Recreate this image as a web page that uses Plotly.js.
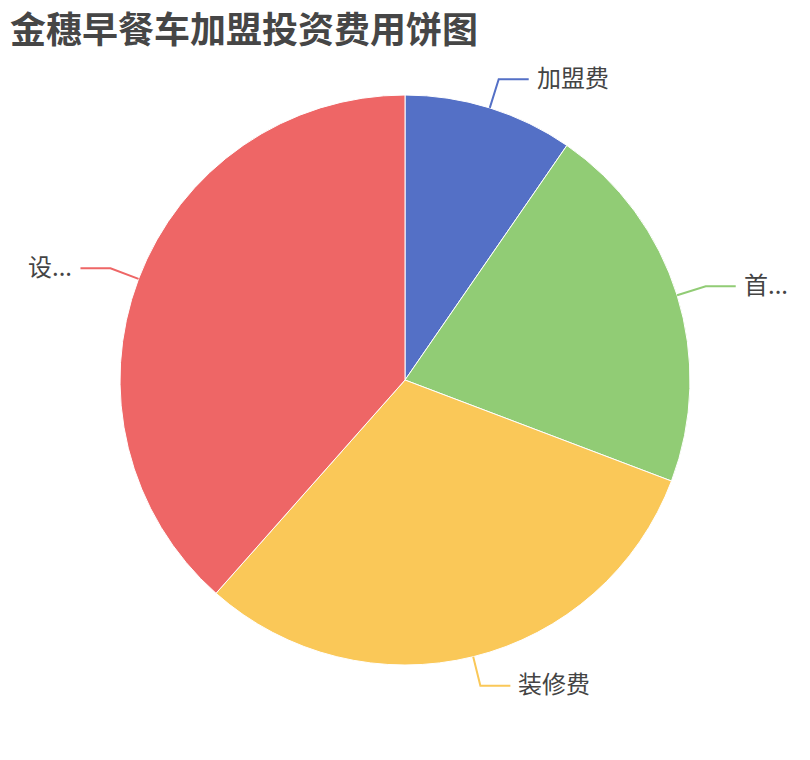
<!DOCTYPE html>
<html>
<head>
<meta charset="utf-8">
<script src="https://cdn.plot.ly/plotly-3.0.1.min.js"></script>
<style>
    html, body { margin: 0; padding: 0; background: #fff; }
    #chart { width: 810px; height: 760px; }
</style>
</head>
<body>
<div id="chart"></div>
<script>
// Data
const labels = ['加盟费', '首...', '装修费', '设...'];
const values = [5, 11, 16, 20];
const colors = ['#5470c6', '#91cc75', '#fac858', '#ee6666'];

const W = 810, H = 760;
// pie geometry in pixels
const cx = 405, cy = 380, radius = 285;
const len1 = 30, len2 = 30, gap = 6;

function px(x) { return x / W; }
function py(y) { return 1 - y / H; }

/**
 * Leader lines and label positions from the slice angles
 */
function buildLabels() {
    let total = values.reduce((a, b) => a + b, 0);
    let shapes = [];
    let annotations = [];
    let start = 0;
    values.forEach((v, i) => {
        let mid = (start + v / 2) / total * 2 * Math.PI;
        start += v;
        let sx = Math.sin(mid), sy = -Math.cos(mid);
        let x0 = cx + radius * sx, y0 = cy + radius * sy;
        let x1 = cx + (radius + len1) * sx, y1 = cy + (radius + len1) * sy;
        let dir = sx >= 0 ? 1 : -1;
        let x2 = x1 + dir * len2;
        shapes.push({
            type: 'path',
            xref: 'paper', yref: 'paper',
            path: 'M ' + px(x0) + ' ' + py(y0) + ' L ' + px(x1) + ' ' + py(y1) + ' L ' + px(x2) + ' ' + py(y1),
            line: { color: colors[i], width: 2 }
        });
        annotations.push({
            xref: 'paper', yref: 'paper',
            x: px(x2 + dir * gap), y: py(y1),
            xanchor: dir > 0 ? 'left' : 'right',
            yanchor: 'middle',
            yshift: 3,
            text: labels[i],
            showarrow: false,
            font: { family: 'Noto Sans CJK SC, sans-serif', size: 24, color: '#444' }
        });
    });
    return { shapes: shapes, annotations: annotations };
}

let trace = {
    type: 'pie',
    labels: labels,
    values: values,
    sort: false,
    direction: 'clockwise',
    rotation: 0,
    textinfo: 'none',
    marker: { colors: colors, line: { color: '#fff', width: 1 } },
    domain: { x: [px(cx - radius), px(cx + radius)], y: [py(cy + radius), py(cy - radius)] }
};

let extra = buildLabels();

let layout = {
    width: W,
    height: H,
    showlegend: false,
    paper_bgcolor: '#fff',
    margin: { l: 0, r: 0, t: 0, b: 0 },
    title: {
        text: '<b>金穗早餐车加盟投资费用饼图</b>',
        x: px(10), xanchor: 'left',
        y: py(30), yanchor: 'middle',
        xref: 'paper', yref: 'paper',
        font: { family: 'Noto Sans CJK SC, sans-serif', size: 36, color: '#464646' }
    },
    shapes: extra.shapes,
    annotations: extra.annotations
};

Plotly.newPlot('chart', [trace], layout, { displayModeBar: false });
</script>
</body>
</html>
